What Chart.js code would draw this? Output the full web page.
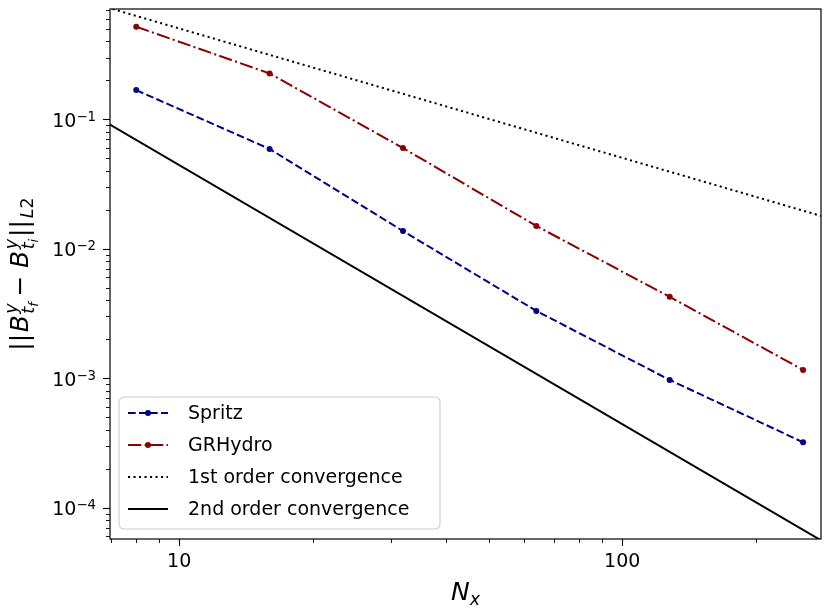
<!DOCTYPE html>
<html>
<head>
<meta charset="utf-8">
<script src="https://cdn.jsdelivr.net/npm/chart.js@4.4.0/dist/chart.umd.min.js"></script>
<style>
  html, body { margin: 0; padding: 0; background: #fff; }
  canvas { display: block; }
</style>
</head>
<body>
<canvas id="chart" width="830" height="611"></canvas>
<script>
// -------------------------
// DATA
// -------------------------
const nx = [8, 16, 32, 64, 128, 256];
const spritz = [0.168, 0.059, 0.0137, 0.00331, 0.00097, 0.00032];
const grhydro = [0.519, 0.226, 0.060, 0.0150, 0.00425, 0.00116];

// reference slopes, end points a little outside the visible range
const convX = [6, 300];
const firstOrder = [0.838, 0.0168];
const secondOrder = [0.123, 0.0000491];

const xMajor = [10, 100];
const xMajorLabels = ["10", "100"];
const xMinor = [7, 8, 9, 20, 30, 40, 50, 60, 70, 80, 90, 200];

const yMajor = [1e-4, 1e-3, 1e-2, 1e-1];
const yMajorExponents = ["−4", "−3", "−2", "−1"];   // drawn as 10^exp
const yMinor = [
    6e-5, 7e-5, 8e-5, 9e-5,
    2e-4, 3e-4, 4e-4, 5e-4, 6e-4, 7e-4, 8e-4, 9e-4,
    2e-3, 3e-3, 4e-3, 5e-3, 6e-3, 7e-3, 8e-3, 9e-3,
    2e-2, 3e-2, 4e-2, 5e-2, 6e-2, 7e-2, 8e-2, 9e-2,
    2e-1, 3e-1, 4e-1, 5e-1, 6e-1, 7e-1
];

const FONT = "'DejaVu Sans', Verdana, sans-serif";

function pts(xs, ys) {
    return xs.map((x, i) => ({ x: x, y: ys[i] }));
}

function allTicks(major, minor) {
    return major.concat(minor).sort((a, b) => a - b).map(v => ({ value: v }));
}

// -------------------------
// MATH TEXT HELPER
// -------------------------
function setFont(ctx, p) {
    ctx.font = (p.it ? "italic " : "") + p.s + "px " + FONT;
}

function mathWidth(ctx, parts) {
    let w = 0;
    parts.forEach(p => {
        setFont(ctx, p);
        if (p.adv !== false) w += ctx.measureText(p.t).width + (p.gap || 0) * 2;
    });
    return w;
}

function drawMath(ctx, parts, x, y) {
    let cx = x;
    parts.forEach(p => {
        setFont(ctx, p);
        ctx.fillText(p.t, cx + (p.gap || 0), y + (p.dy || 0));
        if (p.adv !== false) cx += ctx.measureText(p.t).width + (p.gap || 0) * 2;
    });
}

const yTitle = [
    { t: "||", s: 25 },
    { t: "B", s: 25, it: true, gap: 1.5 },
    { t: "y", s: 17.5, it: true, dy: -11.5, adv: false },
    { t: "t", s: 17.5, it: true, dy: 6 },
    { t: "f", s: 12.5, it: true, dy: 9.5 },
    { t: "−", s: 25, gap: 6 },
    { t: "B", s: 25, it: true, gap: 1.5 },
    { t: "y", s: 17.5, it: true, dy: -11.5, adv: false },
    { t: "t", s: 17.5, it: true, dy: 6 },
    { t: "i", s: 12.5, it: true, dy: 9.5 },
    { t: "||", s: 25, gap: 2 },
    { t: "L", s: 17.5, it: true, dy: 5 },
    { t: "2", s: 17.5, dy: 5 }
];

const xTitle = [
    { t: "N", s: 25, it: true },
    { t: "x", s: 17.5, it: true, dy: 5 }
];

// -------------------------
// DECORATIONS: ticks, frame, y labels, legend, titles
// -------------------------
const decorations = {
    id: "decorations",
    afterDraw(chart) {
        const ctx = chart.ctx;
        const a = chart.chartArea;
        const xs = chart.scales.x;
        const ys = chart.scales.y;
        ctx.save();

        // tick marks (outward)
        ctx.strokeStyle = "#000000";
        ctx.setLineDash([]);
        xMajor.concat(xMinor).forEach(v => {
            const px = Math.round(xs.getPixelForValue(v)) + 0.5;
            const major = xMajor.includes(v);
            ctx.lineWidth = major ? 1.1 : 0.9;
            ctx.beginPath();
            ctx.moveTo(px, a.bottom);
            ctx.lineTo(px, a.bottom + (major ? 7 : 4));
            ctx.stroke();
        });
        yMajor.concat(yMinor).forEach(v => {
            const py = Math.round(ys.getPixelForValue(v)) + 0.5;
            const major = yMajor.includes(v);
            ctx.lineWidth = major ? 1.1 : 0.9;
            ctx.beginPath();
            ctx.moveTo(a.left, py);
            ctx.lineTo(a.left - (major ? 7 : 4), py);
            ctx.stroke();
        });

        // frame
        ctx.lineWidth = 1.2;
        ctx.strokeRect(a.left, a.top, a.right - a.left, a.bottom - a.top);

        // y tick labels: 10^exp
        ctx.fillStyle = "#000";
        ctx.textBaseline = "alphabetic";
        ctx.textAlign = "left";
        yMajor.forEach((v, i) => {
            const py = ys.getPixelForValue(v);
            const parts = [
                { t: "10", s: 19 },
                { t: yMajorExponents[i], s: 13.3, dy: -6 }
            ];
            const w = mathWidth(ctx, parts);
            drawMath(ctx, parts, a.left - 14 - w, py + 7.5);
        });

        // legend box
        const bx = 119, by = 397, bw = 321, bh = 132, r = 5;
        ctx.beginPath();
        ctx.moveTo(bx + r, by);
        ctx.arcTo(bx + bw, by, bx + bw, by + bh, r);
        ctx.arcTo(bx + bw, by + bh, bx, by + bh, r);
        ctx.arcTo(bx, by + bh, bx, by, r);
        ctx.arcTo(bx, by, bx + bw, by, r);
        ctx.closePath();
        ctx.fillStyle = "rgba(255,255,255,0.8)";
        ctx.fill();
        ctx.strokeStyle = "#cccccc";
        ctx.lineWidth = 1.1;
        ctx.stroke();

        chart.data.datasets.forEach((ds, i) => {
            const ry = by + 16 + i * 32;
            ctx.strokeStyle = ds.borderColor;
            ctx.lineWidth = ds.borderWidth;
            ctx.setLineDash(ds.borderDash || []);
            ctx.beginPath();
            ctx.moveTo(bx + 9, ry);
            ctx.lineTo(bx + 49, ry);
            ctx.stroke();
            ctx.setLineDash([]);
            if (ds.pointRadius > 0) {
                ctx.fillStyle = ds.borderColor;
                ctx.beginPath();
                ctx.arc(bx + 29, ry, ds.pointRadius, 0, Math.PI * 2);
                ctx.fill();
            }
            ctx.fillStyle = "#000";
            ctx.font = "19px " + FONT;
            ctx.textBaseline = "middle";
            ctx.textAlign = "left";
            ctx.fillText(ds.label, bx + 69, ry + 1);
        });

        // axis titles
        ctx.fillStyle = "#000";
        ctx.textBaseline = "alphabetic";
        ctx.textAlign = "left";
        const wx = mathWidth(ctx, xTitle);
        drawMath(ctx, xTitle, (a.left + a.right) / 2 - wx / 2, 600);

        const wy = mathWidth(ctx, yTitle);
        ctx.translate(28, (a.top + a.bottom) / 2);
        ctx.rotate(-Math.PI / 2);
        drawMath(ctx, yTitle, -wy / 2, 0);
        ctx.restore();
    }
};

function noPadding(scale) {
    scale.paddingTop = 0;
    scale.paddingBottom = 0;
    scale.paddingLeft = 0;
    scale.paddingRight = 0;
}

// -------------------------
// CHART
// -------------------------
new Chart(document.getElementById("chart"), {
    type: "line",
    data: {
        datasets: [
            {
                label: "Spritz",
                data: pts(nx, spritz),
                borderColor: "#00008b",
                backgroundColor: "#00008b",
                borderWidth: 2,
                borderDash: [7.7, 3.3],
                pointRadius: 3,
                pointBorderWidth: 0,
                pointBackgroundColor: "#00008b",
                fill: false
            },
            {
                label: "GRHydro",
                data: pts(nx, grhydro),
                borderColor: "#8b0000",
                backgroundColor: "#8b0000",
                borderWidth: 2,
                borderDash: [13.3, 3.3, 2.1, 3.3],
                pointRadius: 3,
                pointBorderWidth: 0,
                pointBackgroundColor: "#8b0000",
                fill: false
            },
            {
                label: "1st order convergence",
                data: pts(convX, firstOrder),
                borderColor: "#000",
                borderWidth: 2,
                borderDash: [2.1, 3.4],
                pointRadius: 0,
                fill: false
            },
            {
                label: "2nd order convergence",
                data: pts(convX, secondOrder),
                borderColor: "#000",
                borderWidth: 2,
                pointRadius: 0,
                fill: false
            }
        ]
    },
    options: {
        responsive: false,
        animation: false,
        devicePixelRatio: 1,
        layout: { padding: { left: 0, right: 9, top: 9, bottom: 0 } },
        plugins: {
            legend: { display: false },
            tooltip: { enabled: false }
        },
        scales: {
            x: {
                type: "logarithmic",
                min: 6.98,
                max: 281,
                grid: { display: false, drawTicks: false },
                border: { display: false },
                afterBuildTicks: scale => { scale.ticks = allTicks(xMajor, xMinor); },
                afterFit: scale => { scale.height = 72; noPadding(scale); },
                ticks: {
                    autoSkip: false,
                    maxRotation: 0,
                    padding: 12,
                    color: "#000",
                    font: { family: FONT, size: 19 },
                    callback: v => {
                        const i = xMajor.indexOf(v);
                        return i >= 0 ? xMajorLabels[i] : null;
                    }
                }
            },
            y: {
                type: "logarithmic",
                min: 5.73e-5,
                max: 0.711,
                grid: { display: false, drawTicks: false },
                border: { display: false },
                afterBuildTicks: scale => { scale.ticks = allTicks(yMajor, yMinor); },
                afterFit: scale => { scale.width = 110; noPadding(scale); },
                ticks: {
                    autoSkip: false,
                    // labels are drawn as 10^n by the decorations plugin
                    callback: () => null
                }
            }
        }
    },
    plugins: [decorations]
});
</script>
</body>
</html>
